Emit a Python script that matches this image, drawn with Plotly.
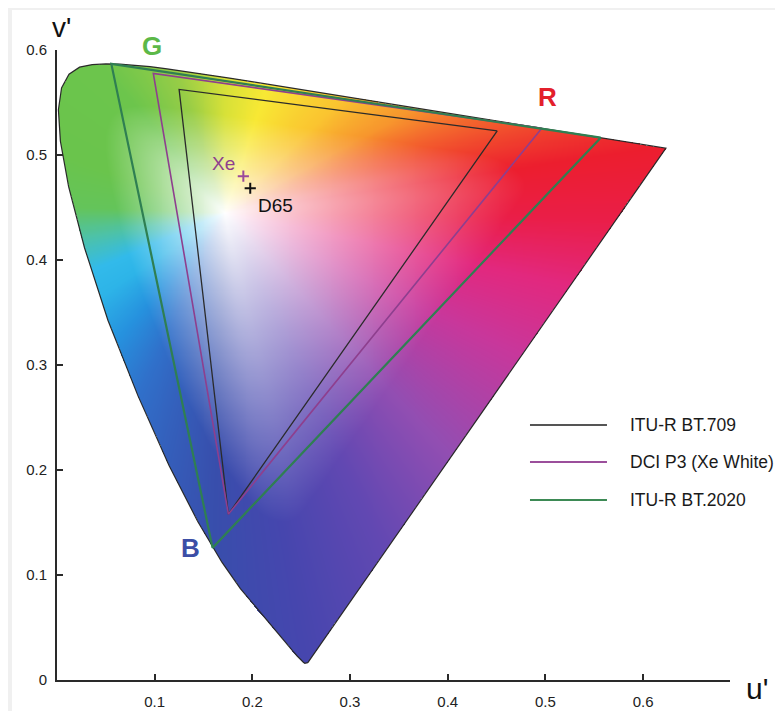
import numpy as np
import plotly.graph_objects as go

# ---------------- data ----------------
# CIE 1931 2-degree spectral locus (x, y chromaticity)
wavelength_nm = [380, 385, 390, 395, 400, 405, 410, 415, 420, 425, 430, 435, 440, 445,
                 450, 455, 460, 465, 470, 475, 480, 485, 490, 495, 500, 505, 510, 515,
                 520, 525, 530, 535, 540, 545, 550, 555, 560, 565, 570, 575, 580, 585,
                 590, 595, 600, 605, 610, 615, 620, 625, 630, 635, 640, 645, 650, 655,
                 660, 665, 670, 680, 690, 700]
locus_x = [0.1741, 0.1740, 0.1738, 0.1736, 0.1733, 0.1730, 0.1726, 0.1721, 0.1714, 0.1703,
           0.1689, 0.1669, 0.1644, 0.1611, 0.1566, 0.1510, 0.1440, 0.1355, 0.1241, 0.1096,
           0.0913, 0.0687, 0.0454, 0.0235, 0.0082, 0.0039, 0.0139, 0.0389, 0.0743, 0.1142,
           0.1547, 0.1929, 0.2296, 0.2658, 0.3016, 0.3373, 0.3731, 0.4087, 0.4441, 0.4788,
           0.5125, 0.5448, 0.5752, 0.6029, 0.6270, 0.6482, 0.6658, 0.6801, 0.6915, 0.7006,
           0.7079, 0.7140, 0.7190, 0.7230, 0.7260, 0.7283, 0.7300, 0.7311, 0.7320, 0.7334,
           0.7344, 0.7347]
locus_y = [0.0050, 0.0050, 0.0049, 0.0049, 0.0048, 0.0048, 0.0048, 0.0048, 0.0051, 0.0058,
           0.0069, 0.0086, 0.0109, 0.0138, 0.0177, 0.0227, 0.0297, 0.0399, 0.0578, 0.0868,
           0.1327, 0.2007, 0.2950, 0.4127, 0.5384, 0.6548, 0.7502, 0.8120, 0.8338, 0.8262,
           0.8059, 0.7816, 0.7543, 0.7243, 0.6923, 0.6589, 0.6245, 0.5896, 0.5547, 0.5202,
           0.4866, 0.4544, 0.4242, 0.3965, 0.3725, 0.3514, 0.3340, 0.3197, 0.3083, 0.2993,
           0.2920, 0.2859, 0.2809, 0.2770, 0.2740, 0.2717, 0.2700, 0.2689, 0.2680, 0.2666,
           0.2656, 0.2653]

# Gamut primaries (R, G, B) as CIE x, y
gamut_names = ["ITU-R BT.709", "DCI P3 (Xe White)", "ITU-R BT.2020"]
bt709_x = [0.640, 0.300, 0.150]
bt709_y = [0.330, 0.600, 0.060]
p3_x = [0.680, 0.265, 0.150]
p3_y = [0.320, 0.690, 0.060]
bt2020_x = [0.708, 0.170, 0.131]
bt2020_y = [0.292, 0.797, 0.046]

# White points
white_names = ["Xe", "D65"]
white_x = [0.314, 0.3127]
white_y = [0.351, 0.3290]

x_tick_vals = [0.1, 0.2, 0.3, 0.4, 0.5, 0.6]
x_tick_text = ["0.1", "0.2", "0.3", "0.4", "0.5", "0.6"]
y_tick_vals = [0, 0.1, 0.2, 0.3, 0.4, 0.5, 0.6]
y_tick_text = ["0", "0.1", "0.2", "0.3", "0.4", "0.5", "0.6"]

primary_labels = ["R", "G", "B"]


# ---------------- helpers ----------------
def xy_to_uv(x, y):
    x = np.asarray(x, float)
    y = np.asarray(y, float)
    d = -2 * x + 12 * y + 3
    return 4 * x / d, 9 * y / d


locus_u, locus_v = xy_to_uv(locus_x, locus_y)
poly_u = np.append(locus_u, locus_u[0])
poly_v = np.append(locus_v, locus_v[0])

# ---------------- colour field (rendering style) ----------------
res = 0.001
nu, nv = 640, 600
u_c = (np.arange(nu) + 0.5) * res
v_c = (np.arange(nv) + 0.5) * res
U, V = np.meshgrid(u_c, v_c)

inside = np.zeros(U.shape, dtype=bool)
for i in range(1, len(poly_u)):
    xi, yi, xj, yj = poly_u[i], poly_v[i], poly_u[i - 1], poly_v[i - 1]
    if yi == yj:
        continue
    cond = ((yi > V) != (yj > V)) & (U < (xj - xi) * (V - yi) / (yj - yi) + xi)
    inside ^= cond

# visual white centre of the shading
Wu, Wv = 0.172, 0.445

# boundary radius as a function of direction, smoothed
ang_grid = np.linspace(-180, 180, 1441)[:-1]
dgx = np.cos(np.radians(ang_grid))
dgy = np.sin(np.radians(ang_grid))
rb = np.full(ang_grid.shape, np.inf)
for i in range(1, len(poly_u)):
    ax, ay = poly_u[i - 1], poly_v[i - 1]
    ex, ey = poly_u[i] - ax, poly_v[i] - ay
    den = dgx * ey - dgy * ex
    with np.errstate(divide="ignore", invalid="ignore"):
        awx, awy = ax - Wu, ay - Wv
        t = (awx * ey - awy * ex) / den
        s = (awx * dgy - awy * dgx) / den
    ok = (den != 0) & (t > 0) & (s >= -1e-9) & (s <= 1 + 1e-9)
    rb = np.where(ok & (t < rb), t, rb)
win = 41
kern = np.ones(win) / win
rb_ext = np.concatenate([rb[-win:], rb, rb[:win]])
rb_s = np.convolve(rb_ext, kern, mode="same")[win:-win]

DX = U - Wu
DY = V - Wv
theta = np.degrees(np.arctan2(DY, DX))
rpix = np.hypot(DX, DY)
frac = np.clip(rpix / np.interp(theta, ang_grid, rb_s, period=360), 0, 1)

hue_angle = [-171, -158, -148, -132, -117, -92, -79, -63, -45, -24, -11, -1, 8, 17, 27,
             42, 70, 90, 110, 132, 162, 178]
hue_rgb = [(78, 194, 165), (50, 186, 234), (45, 180, 232), (38, 145, 222), (48, 112, 202),
           (56, 78, 172), (70, 70, 174), (98, 72, 178), (146, 78, 178), (200, 55, 155),
           (226, 40, 126), (234, 30, 72), (236, 30, 46), (242, 88, 45), (247, 150, 45),
           (250, 196, 48), (248, 232, 52), (215, 225, 56), (152, 205, 70), (108, 197, 76),
           (106, 196, 76), (100, 196, 90)]
hue_rgb = np.array(hue_rgb, float)
edge = np.stack([np.interp(theta, hue_angle, hue_rgb[:, k], period=360) for k in range(3)], axis=-1)
f = np.clip(frac / 0.72, 0, 1) ** 0.9
col = 255 * (1 - f[..., None]) + edge * f[..., None]
col = np.clip(np.round(col), 0, 255).astype(int)

z = np.zeros((nv, nu, 4), dtype=int)
z[..., :3] = col
z[..., 3] = inside.astype(int)
z[~inside] = 0

fig = go.Figure()
fig.add_trace(go.Image(z=z.tolist(), colormodel="rgba", x0=u_c[0], dx=res,
                       y0=v_c[0], dy=res, hoverinfo="skip"))

# locus outline
fig.add_trace(go.Scatter(x=poly_u, y=poly_v, mode="lines",
                         line=dict(color="#2a2a2a", width=1.2), showlegend=False,
                         hoverinfo="skip"))

gamut_colors = ["#2b2b2b", "#8e3f8e", "#2f7f52"]
gamut_widths = [1.3, 1.6, 2.2]
for name, gx, gy, c, w in zip(gamut_names, [bt709_x, p3_x, bt2020_x],
                              [bt709_y, p3_y, bt2020_y], gamut_colors, gamut_widths):
    gu, gv = xy_to_uv(gx + [gx[0]], gy + [gy[0]])
    fig.add_trace(go.Scatter(x=gu, y=gv, mode="lines", name=name,
                             line=dict(color=c, width=w), showlegend=False))

wu, wv = xy_to_uv(white_x, white_y)
white_colors = ["#9b4a9b", "#111111"]
fig.add_trace(go.Scatter(x=wu, y=wv, mode="markers", showlegend=False,
                         marker=dict(symbol="cross-thin", size=8,
                                     line=dict(color=white_colors, width=2))))

font = "Liberation Sans, Arial, sans-serif"
ann = []
ann.append(dict(x=wu[0], y=wv[0], text=white_names[0], showarrow=False, xshift=-20, yshift=13,
                font=dict(family=font, size=19, color="#8e3f8e")))
ann.append(dict(x=wu[1], y=wv[1], text=white_names[1], showarrow=False, xshift=25, yshift=-17,
                font=dict(family=font, size=19, color="#111111")))

# primary letters placed near the BT.2020 primaries
p_u, p_v = xy_to_uv(bt2020_x, bt2020_y)
prim_colors = ["#e3202b", "#5cb848", "#3c4ea6"]
prim_shift = [(-53, 41), (41, 18), (-22, 0)]
for lab, pu, pv, pc, (sx, sy) in zip(primary_labels, p_u, p_v, prim_colors, prim_shift):
    ann.append(dict(x=pu, y=pv, text="<b>%s</b>" % lab, showarrow=False, xshift=sx, yshift=sy,
                    font=dict(family=font, size=26, color=pc)))

ann.append(dict(x=0, y=0.6, text="v'", showarrow=False, xshift=4, yshift=23,
                font=dict(family=font, size=28, color="#111")))
ann.append(dict(x=0.689, y=0, text="u'", showarrow=False, xshift=27, yshift=-8,
                font=dict(family=font, size=30, color="#111")))

# custom legend
shapes = []
legend_y = [0.4048, 0.3460, 0.2857]
legend_line_colors = ["#555555", "#9b4f9b", "#3d8a55"]
for name, ly, lc in zip(gamut_names, legend_y, legend_line_colors):
    shapes.append(dict(type="line", xref="paper", yref="paper", x0=0.7028, x1=0.8172,
                       y0=ly, y1=ly, line=dict(color=lc, width=2)))
    ann.append(dict(xref="paper", yref="paper", x=0.8484, y=ly, text=name, showarrow=False,
                    xanchor="left", yanchor="middle",
                    font=dict(family=font, size=17.5, color="#1a1a1a")))

# light grey frame strips
shapes.append(dict(type="rect", xref="paper", yref="paper", x0=-0.1, x1=1.1, y0=1.0635, y1=1.1,
                   fillcolor="#f0f0f0", line=dict(width=0), layer="below"))
shapes.append(dict(type="rect", xref="paper", yref="paper", x0=-0.1, x1=-0.0669, y0=-0.06, y1=1.1,
                   fillcolor="#f0f0f0", line=dict(width=0), layer="below"))

axis_common = dict(showgrid=False, zeroline=False, showline=True, linecolor="#2a2a2a",
                   linewidth=2, ticks="inside", ticklen=6, tickwidth=1.5, tickcolor="#2a2a2a",
                   tickfont=dict(family=font, size=15, color="#222"), mirror=False,
                   automargin=False)

fig.update_layout(
    width=783, height=711,
    margin=dict(l=49, r=61, t=42, b=39),
    paper_bgcolor="white", plot_bgcolor="white",
    showlegend=False,
    xaxis=dict(range=[0, 0.689], autorange=False, tickvals=x_tick_vals, ticktext=x_tick_text,
               scaleanchor=False, ticklabelstandoff=7, **axis_common),
    yaxis=dict(range=[0, 0.6], autorange=False, tickvals=y_tick_vals, ticktext=y_tick_text,
               scaleanchor=False, ticklabelstandoff=5, **axis_common),
    annotations=ann, shapes=shapes,
)

fig.write_html("out.html")
